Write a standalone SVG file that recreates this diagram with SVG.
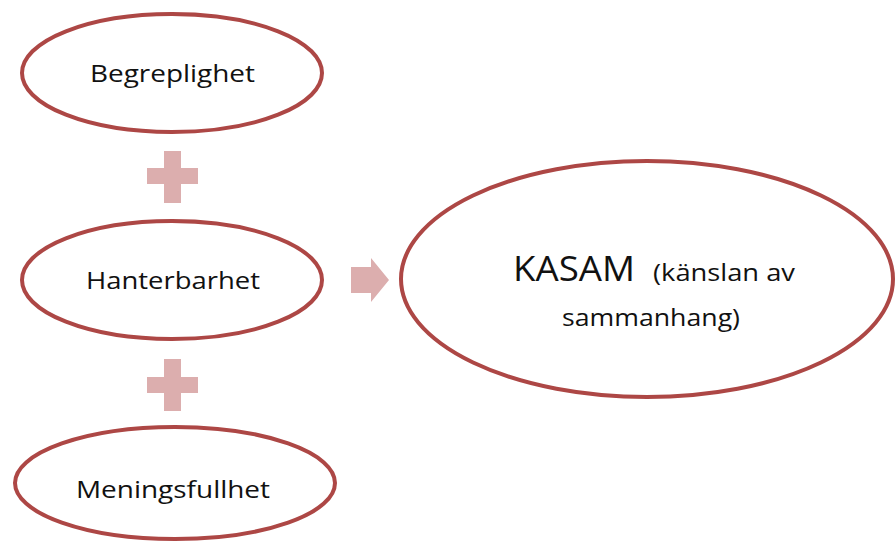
<svg xmlns="http://www.w3.org/2000/svg" width="896" height="543" viewBox="0 0 896 543">
<style>
.node{fill:#fff;stroke:#ad4745;stroke-width:4}
.lbl{font-family:"Open Sans","Liberation Sans",sans-serif;font-size:24px;fill:#111;text-anchor:middle}
.big{font-family:"Open Sans","Liberation Sans",sans-serif;fill:#111}
.sym{fill:#dcaeae}
</style>
<rect width="896" height="543" fill="#fff"/>
<g id="connectors">
<path class="sym" d="M164,151H181V168H198V184H181V203H164V184H147V168H164Z"/>
<path class="sym" d="M164,359H181V377H198V393H181V411H164V393H147V377H164Z"/>
<path class="sym" d="M351,267H371V258L389,280L371,302V293H351Z"/>
</g>
<g id="begreplighet">
<ellipse class="node" cx="172" cy="73" rx="150" ry="59"/>
<text class="lbl" x="172.5" y="82" textLength="165" lengthAdjust="spacingAndGlyphs">Begreplighet</text>
</g>
<g id="hanterbarhet">
<ellipse class="node" cx="172" cy="280" rx="150" ry="59"/>
<text class="lbl" x="173" y="289" textLength="174" lengthAdjust="spacingAndGlyphs">Hanterbarhet</text>
</g>
<g id="meningsfullhet">
<ellipse class="node" cx="175" cy="483" rx="160" ry="56"/>
<text class="lbl" x="173" y="498" textLength="194" lengthAdjust="spacingAndGlyphs">Meningsfullhet</text>
</g>
<g id="kasam">
<ellipse class="node" cx="647" cy="279" rx="246" ry="118"/>
<text class="big" x="513" y="281"><tspan font-size="34" textLength="122" lengthAdjust="spacingAndGlyphs">KASAM</tspan><tspan font-size="24" x="653" textLength="142" lengthAdjust="spacingAndGlyphs">(känslan av</tspan></text>
<text class="big" x="562" y="326" font-size="24" textLength="178" lengthAdjust="spacingAndGlyphs">sammanhang)</text>
</g>
</svg>
